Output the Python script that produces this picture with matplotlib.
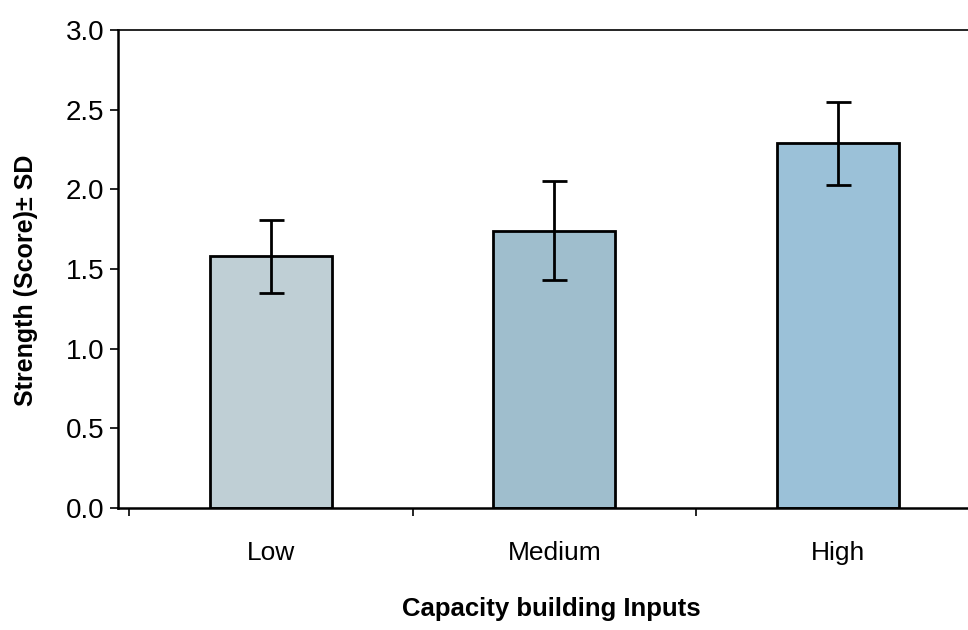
import numpy as np
import matplotlib
matplotlib.use('Agg')
import matplotlib.pyplot as plt

plt.rcParams['font.family'] = ['Liberation Sans', 'DejaVu Sans']

# values
categories = ['Low', 'Medium', 'High']
strength = [1.58, 1.74, 2.29]
sd = [0.23, 0.31, 0.26]
bar_colors = ['#bfcfd5', '#9fbecd', '#9bc1d8']

fig = plt.figure(figsize=(9.68, 6.3), dpi=100)
ax = fig.add_axes([0.122, 0.194, 0.878, 0.758])

x = np.arange(len(categories))
ax.bar(x, strength, width=0.43, color=bar_colors, edgecolor='black', linewidth=2, zorder=2)
ax.errorbar(x, strength, yerr=sd, fmt='none', ecolor='black', elinewidth=2,
            capsize=9, capthick=2, zorder=3)

ax.set_xlim(-0.54, 2.46)
ax.set_ylim(0, 3.0)
yt = np.arange(0, 3.01, 0.5)
ax.set_yticks(yt)
ax.set_yticklabels(['%.1f' % v for v in yt], fontsize=20)
ax.set_xticks(x)
ax.set_xticklabels(categories, fontsize=19)
ax.set_xticks([-0.5, 0.5, 1.5], minor=True)
ax.tick_params(axis='x', which='major', length=0, pad=24)
ax.tick_params(axis='x', which='minor', length=6, width=1.2, direction='out')
ax.tick_params(axis='y', length=6, width=1.2, direction='out', pad=4)

for side in ['left', 'bottom']:
    ax.spines[side].set_linewidth(1.8)
ax.spines['top'].set_linewidth(1.2)
ax.spines['right'].set_visible(False)

ax.set_ylabel('Strength (Score)\u00b1 SD', fontsize=18, fontweight='bold')
ax.yaxis.set_label_coords(-0.094, 0.477)
ax.set_xlabel('Capacity building Inputs', fontsize=18.5, fontweight='bold')
ax.xaxis.set_label_coords(0.51, -0.186)

fig.savefig('out.png', dpi=100)
